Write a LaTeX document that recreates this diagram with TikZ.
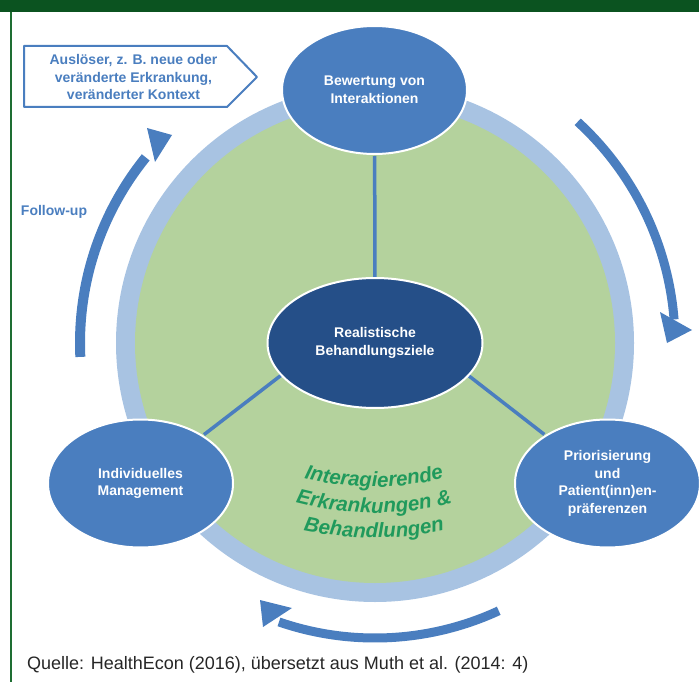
\documentclass[tikz,border=0pt]{standalone}
\usepackage{fontspec}
\setmainfont{Liberation Sans}
\usetikzlibrary{shapes.geometric,decorations.text}
\definecolor{midblue}{RGB}{74,126,191}
\definecolor{darkblue}{RGB}{37,79,136}
\definecolor{ringblue}{RGB}{168,195,226}
\definecolor{fillgreen}{RGB}{180,210,157}
\definecolor{textgreen}{RGB}{32,154,92}
\definecolor{framegreen}{RGB}{11,83,32}
\definecolor{linegreen}{RGB}{30,110,50}
\begin{document}
\begin{tikzpicture}[x=1pt,y=1pt,line join=round,
    stage/.style={ellipse,draw=white,line width=2pt,fill=midblue,text=white,inner sep=0pt,
      minimum width=185pt,minimum height=128pt,align=center,
      font=\fontsize{14}{17.5}\selectfont\bfseries},
    spoke/.style={midblue,line width=3.5pt},
    turnarrow/.style={midblue,line width=9pt},
    bluetext/.style={text=midblue,align=center,font=\fontsize{14}{17.5}\selectfont\bfseries},
    greentext/.style={decorate,decoration={text along path,text align=center,text color=textgreen}}]
  \def\rout{259}
  \def\rin{240}
  \useasboundingbox (0,0) rectangle (699,-682);
  \path
  (375,-343) coordinate (mid)
  (375,-303) coordinate (hub)
  (374,-210) coordinate (tc)
  ;
  \fill[framegreen] (0,0) rectangle (699,-12);
  \draw[linegreen,line width=2pt] (11,-12) -- (11,-682);
  \fill[ringblue] (mid) circle[radius=\rout];
  \fill[fillgreen] (mid) circle[radius=\rin];
  \node[stage] (bewertung) at (374.5,-90) {Bewertung von\\Interaktionen};
  \node[stage] (management) at (140.5,-483.5) {Individuelles\\Management};
  \node[stage] (praeferenz) at (607.5,-483.5) {Priorisierung\\und\\Patient(inn)en-\\präferenzen};
  \foreach \n in {bewertung,management,praeferenz} \draw[spoke,shorten >=1pt] (hub) -- (\n);
  \node[stage,fill=darkblue,minimum width=215pt,minimum height=130pt] (ziel) at (mid) {Realistische\\Behandlungsziele};
  \path[greentext,decoration={text={|\fontsize{20.5}{25}\selectfont\bfseries\itshape|Interagierende}}]
    (tc) ++(235:277) arc[start angle=235,end angle=305,radius=277];
  \path[greentext,decoration={text={|\fontsize{20.5}{25}\selectfont\bfseries\itshape|Erkrankungen {\&}}}]
    (tc) ++(235:303) arc[start angle=235,end angle=305,radius=303];
  \path[greentext,decoration={text={|\fontsize{20.5}{25}\selectfont\bfseries\itshape|Behandlungen}}]
    (tc) ++(235:328) arc[start angle=235,end angle=305,radius=328];
  \draw[turnarrow] (mid) ++(47.5:300) arc[start angle=47.5,end angle=4.5,radius=300];
  \fill[midblue] (660,-312) -- (692,-330) -- (667,-343) -- cycle;
  \draw[turnarrow] (mid) ++(-65.2:295) arc[start angle=-65.2,end angle=-109,radius=295];
  \fill[midblue] (260,-600) -- (292,-608) -- (263,-627) -- cycle;
  \draw[turnarrow,line width=10pt] (mid) ++(182.7:295) arc[start angle=182.7,end angle=141,radius=295];
  \fill[midblue] (147,-128) -- (172,-135) -- (155,-162) -- cycle;
  \draw[midblue,line width=2pt,fill=white] (24,-46) -- (227,-46) -- (257,-77) -- (227,-107) -- (24,-107) -- cycle;
  \node[bluetext] (ausloeser) at (133.5,-77) {Auslöser, z. B. neue oder\\veränderte Erkrankung,\\veränderter Kontext};
  \node[bluetext] (followup) at (54,-212) {Follow-up};
  \node[anchor=west,text=black!85,font=\fontsize{18}{21}\selectfont,inner sep=0pt] (quelle) at (27,-665)
    {Quelle: HealthEcon (2016), übersetzt aus Muth et al. (2014: 4)};
\end{tikzpicture}
\end{document}
